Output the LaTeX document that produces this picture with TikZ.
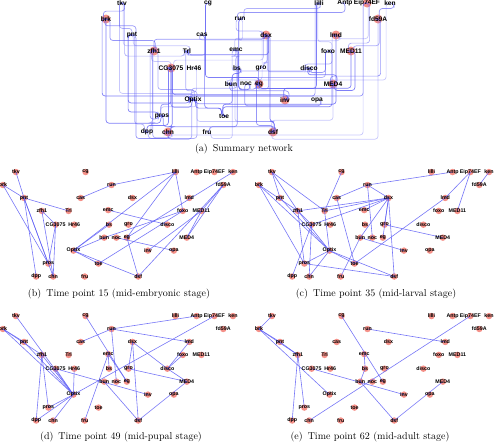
\documentclass[tikz,border=0pt]{standalone}
\usepackage{fontspec}
\newfontfamily\genefont{Liberation Sans}
\usetikzlibrary{calc}
\definecolor{netblue}{RGB}{95,95,245}
\definecolor{dotred}{RGB}{242,118,108}
\pgfdeclarelayer{dots}\pgfdeclarelayer{links}
\pgfsetlayers{dots,links,main}
\tikzset{
  gene/.style={inner sep=0pt, text=black, font=\genefont\bfseries\fontsize{6.6}{7}\selectfont},
  smallgene/.style={gene, font=\genefont\bfseries\fontsize{5.3}{6}\selectfont},
  dot/.style={fill=dotred, fill opacity=0.8},
  link/.style={draw=netblue, line width=0.6pt, opacity=0.85},
  route/.style={draw=netblue, line width=0.7pt, rounded corners=3pt},
  caption/.style={inner sep=0pt, font=\fontsize{10}{12}\selectfont}
}
% gene / x / y of the summary layout
\newcommand\genes{tkv/122/3, cg/208/3, lilli/319/3, Antp/345/3, Eip74EF/367/3, ken/390/3,
  brk/106/19, run/240/19, fd59A/378/19, pnt/132/35, cas/202/35, dsx/266/35, lmd/336/35,
  zfh1/154/51, Trl/187/51, emc/236/50, foxo/328/51, MED11/351/51,
  CG3075/171/68, Hr46/194/68, bs/237/68, gro/261/68, disco/309/68,
  bun/231/84, noc/246/84, eg/259/84, MED4/333/84, Optix/193/100, inv/285/100, opa/317/100,
  pros/162/116, toe/224/116, dpp/147/132, chn/168/132, fru/207/132, dsf/273/132}
\newcommand\timepanel[3]{%
  \begin{scope}[shift={#2}, scale=0.81]
    \foreach \g/\x/\y in \genes {\node[smallgene] (#1\g) at (\x,\y) {\g};}
    \begin{pgfonlayer}{dots}
      \foreach \g/\x/\y in \genes {\fill[dot] (#1\g.center) circle (4);}
    \end{pgfonlayer}
    \begin{pgfonlayer}{links}
      \foreach \u/\v in {#3} {\draw[link] (#1\u.center) -- (#1\v.center);}
    \end{pgfonlayer}
  \end{scope}}

\begin{document}
\begin{tikzpicture}[x=1pt, y=-1pt]
\useasboundingbox (0,0) rectangle (495,442);

% (a) summary network
\foreach \g/\x/\y in \genes {\node[gene] (a\g) at (\x,\y) {\g};}
\begin{pgfonlayer}{dots}
\foreach \g in {brk,zfh1,CG3075,Eip74EF,fd59A,dsx,lmd,MED11,eg,MED4,inv,dsf,chn}
  {\fill[dot] (a\g.center) circle (4.5);}
\end{pgfonlayer}
\begin{pgfonlayer}{links}
\foreach \u/\v [count=\i] in {tkv/pnt, brk/pnt, brk/pros, pnt/Trl, pnt/dpp, pnt/chn, pnt/pros,
  zfh1/CG3075, zfh1/chn, CG3075/pros, CG3075/chn, run/cas, run/lilli, lilli/Optix, lilli/eg,
  lilli/foxo, bs/Optix, bun/Optix, Optix/toe, Optix/dsf, emc/disco, eg/dsf, toe/foxo, fd59A/dsf,
  fd59A/MED11, fd59A/MED4, MED11/MED4, ken/eg, foxo/bun, noc/opa, MED11/inv, tkv/zfh1, tkv/Trl,
  brk/zfh1, brk/Optix, cg/Trl, Trl/Optix, zfh1/dsx, Trl/dsx, CG3075/dsx, zfh1/Optix, zfh1/pros,
  CG3075/dpp, pros/Optix, chn/Optix, pros/dsf, cas/toe, fru/bun, run/dsx, run/Antp, run/noc,
  dsx/emc, dsx/gro, dsx/eg, dsx/dsf, dsx/bun, gro/MED4, bun/inv, lmd/toe, Eip74EF/lmd,
  Eip74EF/MED11, ken/fd59A, pnt/Optix, tkv/Optix, zfh1/dpp, CG3075/Optix, CG3075/inv, Hr46/Optix,
  Optix/dpp, Optix/Eip74EF, cg/eg, run/lmd, emc/bs, emc/fru, emc/eg, bun/dsf, lmd/disco,
  foxo/disco, disco/MED4, MED4/dsf, dsx/disco, tkv/brk, bs/bun, chn/Eip74EF} {
  \pgfmathsetmacro\dxu{mod(\i,7)*1.3-3.9}
  \pgfmathsetmacro\dxv{mod(\i*3,7)*1.3-3.9}
  \pgfmathsetmacro\off{mod(\i,3)==0 ? -(3+mod(\i*2,7)*0.7) : (4+mod(\i*2,7)*1.3)}
  \pgfmathsetmacro\op{0.35+0.15*mod(\i,4)}
  \draw[route, opacity=\op] let \p1=(a\u.center), \p2=(a\v.center) in
    (\p1) -- ++(\dxu,0) -- ({\x1+\dxu},{min(\y1,\y2)+\off}) -- ({\x2+\dxv},{min(\y1,\y2)+\off})
    -- ({\x2+\dxv},\y2) -- (\p2);
}
\end{pgfonlayer}
\node[caption] (capa) at (244,149) {(a)\hspace{.5em}Summary network};

% (b)-(e) time points
\timepanel{b}{(-82.9,169.6)}{tkv/pnt, brk/pnt, brk/pros, pnt/Trl, pnt/dpp, pnt/chn, pnt/pros,
  zfh1/CG3075, zfh1/chn, CG3075/pros, CG3075/chn, run/cas, run/lilli, lilli/Optix, lilli/eg,
  lilli/foxo, bs/Optix, bun/Optix, Optix/toe, Optix/dsf, emc/disco, eg/dsf, toe/foxo, fd59A/dsf,
  fd59A/MED11, fd59A/MED4, MED11/MED4, ken/eg, foxo/bun, noc/opa, MED11/inv}
\node[caption] (capb) at (119,294) {(b)\hspace{.5em}Time point 15 (mid-embryonic stage)};

\timepanel{c}{(173.1,169.6)}{tkv/pnt, tkv/zfh1, tkv/Trl, brk/zfh1, brk/pros, brk/Optix, cg/Trl,
  Trl/Optix, zfh1/dsx, Trl/dsx, CG3075/dsx, zfh1/CG3075, zfh1/Optix, zfh1/pros, CG3075/dpp,
  CG3075/chn, pros/Optix, chn/Optix, Optix/dsf, Optix/toe, pros/dsf, cas/toe, fru/bun, run/cas,
  run/dsx, run/Antp, run/noc, dsx/emc, dsx/gro, dsx/eg, dsx/dsf, dsx/bun, gro/MED4, bun/inv,
  lmd/toe, Eip74EF/lmd, Eip74EF/MED11, ken/fd59A, pnt/Optix}
\node[caption] (capc) at (376,294) {(c)\hspace{.5em}Time point 35 (mid-larval stage)};

\timepanel{d}{(-82.9,313.6)}{tkv/Optix, brk/pnt, brk/zfh1, brk/Optix, pnt/Optix, zfh1/Optix,
  zfh1/dpp, zfh1/pros, CG3075/Optix, CG3075/inv, Hr46/Optix, Optix/pros, Optix/dpp, Optix/chn,
  Optix/Eip74EF, cg/eg, run/cas, run/Antp, run/lmd, run/noc, dsx/dsf, dsx/gro, dsx/disco, emc/bs,
  emc/fru, emc/eg, gro/MED4, bun/dsf, lmd/disco, foxo/disco, disco/MED4, MED4/dsf}
\node[caption] (capd) at (121,437) {(d)\hspace{.5em}Time point 49 (mid-pupal stage)};

\timepanel{e}{(173.1,313.6)}{tkv/brk, brk/pnt, brk/zfh1, brk/Optix, pnt/zfh1, zfh1/dpp,
  zfh1/pros, CG3075/inv, cg/eg, emc/bs, bs/bun, run/lmd, bun/dsf, chn/Eip74EF, MED4/dsf}
\node[caption] (cape) at (370,437) {(e)\hspace{.5em}Time point 62 (mid-adult stage)};
\end{tikzpicture}
\end{document}
